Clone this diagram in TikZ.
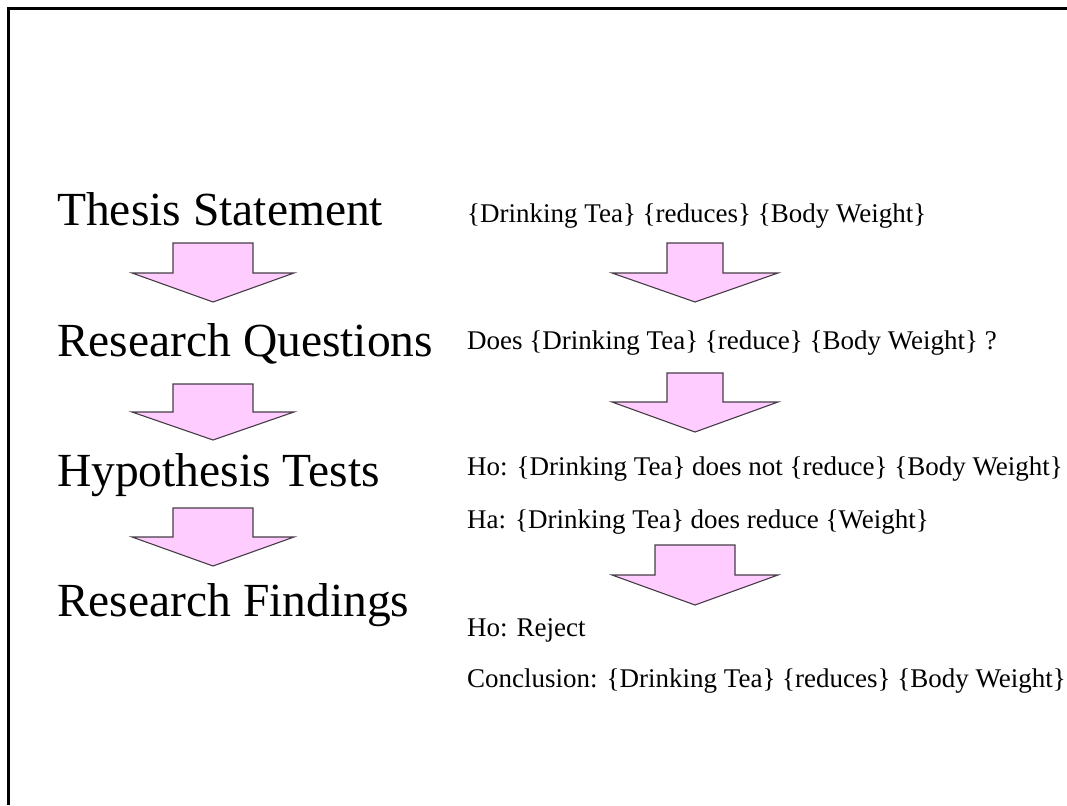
\documentclass[tikz,border=0pt]{standalone}
\usepackage{fontspec}
\setmainfont{Liberation Serif}
\definecolor{arrowPink}{RGB}{255,204,255}
\definecolor{arrowEdge}{RGB}{70,60,70}
% block arrow pointing down: centre x, shaft half width, wing half width, top y, wing y, tip y
\newcommand{\downblock}[6]{%
  \filldraw[blockarrow] (#1-#2,#4) -- (#1+#2,#4) -- (#1+#2,#5) -- (#1+#3,#5) -- (#1,#6)
    -- (#1-#3,#5) -- (#1-#2,#5) -- cycle;}

\begin{document}
\begin{tikzpicture}[x=1pt,y=-1pt,
  stage/.style={anchor=base west,inner sep=0pt,font=\fontsize{47.5}{57}\selectfont},
  detail/.style={anchor=base west,inner sep=0pt,font=\fontsize{27}{32}\selectfont},
  blockarrow/.style={fill=arrowPink,draw=arrowEdge,line width=1.1pt,line join=miter}]
\useasboundingbox (0,0) rectangle (1067,805);
\draw[line width=3pt] (1067,8.5) -- (8.5,8.5) -- (8.5,805);
% left column
\node[stage] (thesis) at (57,225) {Thesis Statement};
\node[stage] (questions) at (57,356) {Research Questions};
\node[stage] (tests) at (57,486) {Hypothesis Tests};
\node[stage] (findings) at (57,616) {Research Findings};
\downblock{213}{40}{81}{243}{273}{302}
\downblock{213}{40}{81}{384}{412}{440}
\downblock{213}{40}{81}{508}{537}{566}
% right column
\node[detail] (claim) at (467,222) {\{Drinking Tea\} \{reduces\} \{Body Weight\}};
\node[detail] (ask) at (467,349) {Does \{Drinking Tea\} \{reduce\} \{Body Weight\} ?};
\node[detail] (nullh) at (467,475) {Ho: \{Drinking Tea\} does not \{reduce\} \{Body Weight\}};
\node[detail] (alth) at (467,528) {Ha: \{Drinking Tea\} does reduce \{Weight\}};
\node[detail] (reject) at (467,636) {Ho: Reject};
\node[detail] (concl) at (467,687) {Conclusion: \{Drinking Tea\} \{reduces\} \{Body Weight\}};
\downblock{695}{28}{83}{243}{273}{302}
\downblock{695}{28}{83}{373}{402}{432}
\downblock{695}{40}{83}{545}{575}{605}
\end{tikzpicture}
\end{document}
